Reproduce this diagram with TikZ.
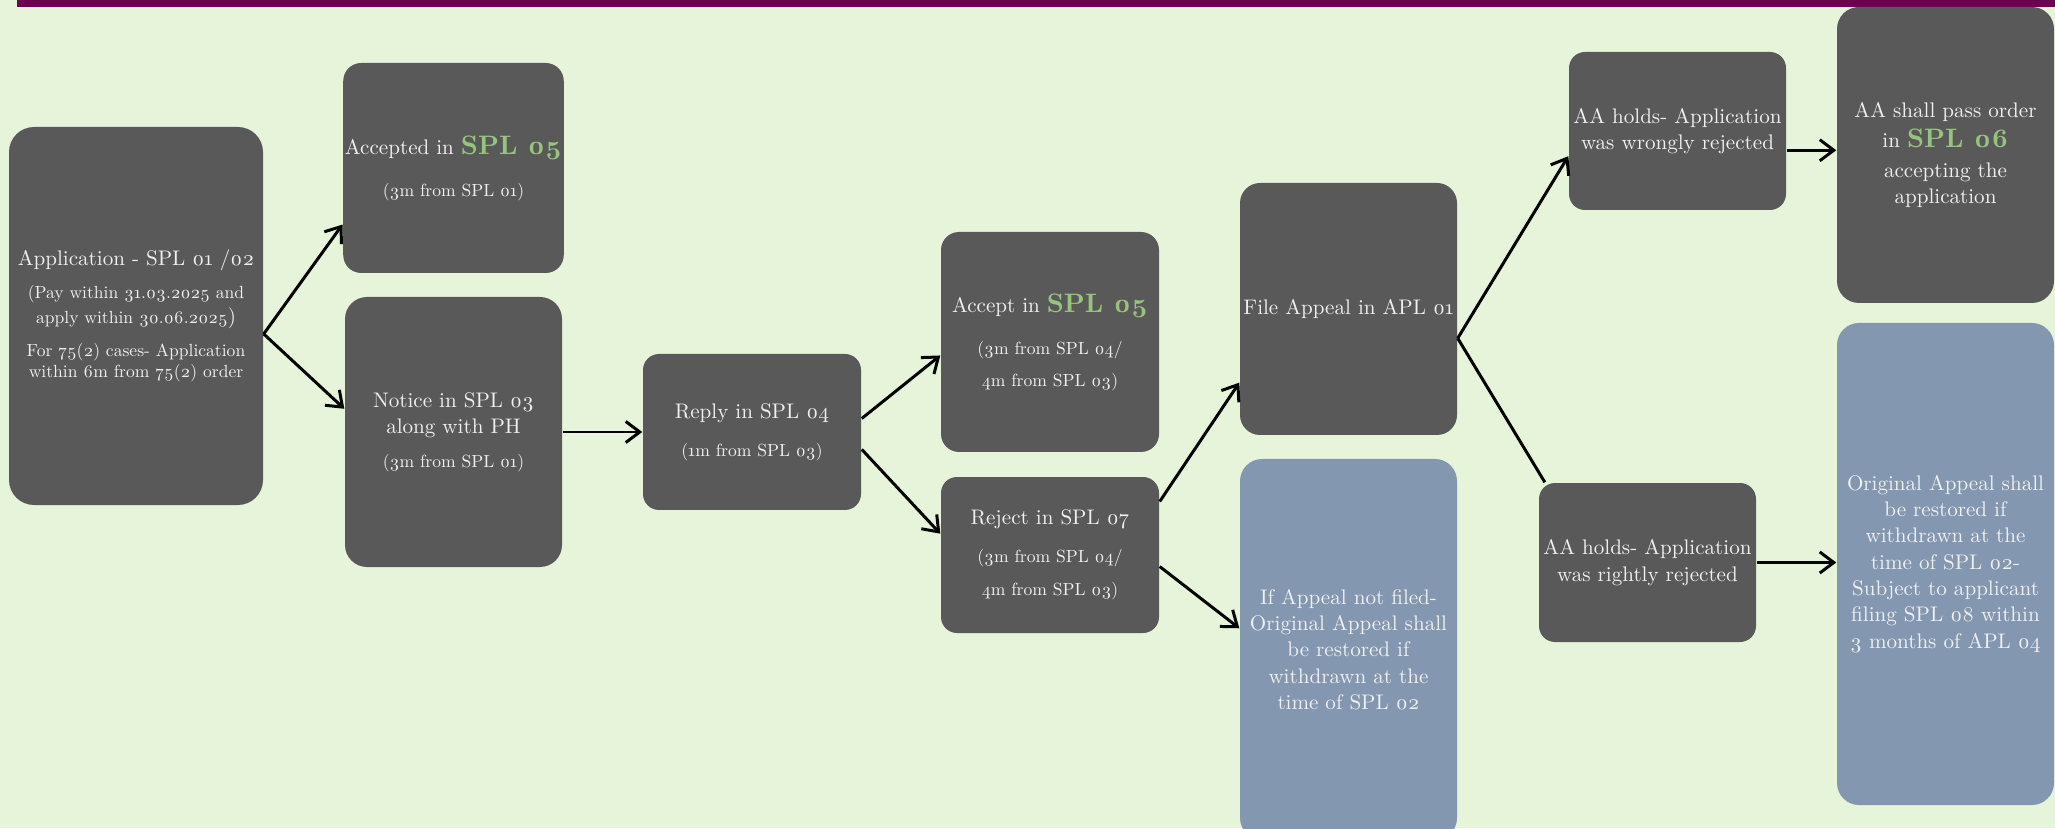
\documentclass[tikz,border=0pt]{standalone}
\usepackage{fontspec}
\setmainfont{lmroman10-regular}[Extension=.otf, BoldFont=lmroman10-bold, Numbers=OldStyle]
\usetikzlibrary{arrows.meta,positioning}

\definecolor{pagebg}{RGB}{230,245,218}
\definecolor{topbar}{RGB}{110,0,80}
\definecolor{stagegray}{RGB}{89,89,89}
\definecolor{noteblue}{RGB}{131,151,176}
\definecolor{formgreen}{RGB}{150,196,125}
\definecolor{stagetext}{RGB}{240,240,240}

\newcommand{\txtmain}{\fontsize{6}{7.5}\selectfont}
\newcommand{\txtsmall}{\fontsize{5}{6.6}\selectfont}
\newcommand{\form}[1]{{\fontsize{7.6}{9}\selectfont\bfseries\color{formgreen}#1}}

\tikzset{
	stage/.style={fill=stagegray, text=stagetext, rounded corners=0.18cm, align=center,
		minimum width=2.17cm, inner sep=0.5pt, font=\txtmain},
	note/.style={stage, fill=noteblue, rounded corners=0.22cm},
	flow/.style={-{Straight Barb[length=4pt,width=6pt]}, line width=0.85pt},
}

\begin{document}
\begin{tikzpicture}
	\useasboundingbox (0,0) rectangle (20.55,8.28);
	\fill[pagebg] (0,0) rectangle (20.55,8.28);
	\fill[topbar] (0.17,8.21) rectangle (20.55,8.28);
	%%%%% application and first replies
	\node[stage, minimum width=2.54cm, minimum height=3.78cm, rounded corners=0.25cm] (app) at (1.36,5.12)
		{Application - SPL 01 /02\\[2pt]
		{\txtsmall (Pay within 31.03.2025 and}\\[-0.5pt]
		{\txtsmall apply within 30.06.2025})\\[2pt]
		{\txtsmall For 75(2) cases- Application}\\[-1.5pt]
		{\txtsmall within 6m from 75(2) order}};
	\node[stage, minimum height=2.10cm] (acc1) at (4.535,6.60)
		{Accepted in \form{SPL 05}\\[4.5pt]{\txtsmall (3m from SPL 01)}};
	\node[stage, minimum height=2.70cm, rounded corners=0.22cm] (notice) at (4.535,3.96)
		{Notice in SPL 03\\along with PH\\[2.2pt]{\txtsmall (3m from SPL 01)}};
	\node[stage, minimum width=2.18cm, minimum height=1.56cm, rounded corners=0.16cm] (reply) at (7.52,3.96)
		{Reply in SPL 04\\[3.3pt]{\txtsmall (1m from SPL 03)}};
	%%%%% order on the reply
	\node[stage, minimum width=2.18cm, minimum height=2.20cm] (acc2) at (10.50,4.86)
		{Accept in \form{SPL 05}\\[4.5pt]{\txtsmall (3m from SPL 04/}\\[1.6pt]{\txtsmall 4m from SPL 03)}};
	\node[stage, minimum width=2.18cm, minimum height=1.56cm, rounded corners=0.16cm] (reject) at (10.50,2.73)
		{Reject in SPL 07\\[3.3pt]{\txtsmall (3m from SPL 04/}\\[1.9pt]{\txtsmall 4m from SPL 03)}};
	%%%%% appeal
	\node[stage, minimum height=2.52cm, rounded corners=0.2cm] (appeal) at (13.485,5.19) {File Appeal in APL 01};
	\node[note, minimum height=3.81cm] (notfiled) at (13.485,1.785)
		{If Appeal not filed-\\Original Appeal shall\\be restored if\\withdrawn at the\\time of SPL 02};
	\node[stage, minimum height=1.58cm, rounded corners=0.16cm] (wrong) at (16.775,6.97)
		{AA holds- Application\\was wrongly rejected};
	\node[stage, minimum height=1.59cm, rounded corners=0.16cm] (rightly) at (16.475,2.655)
		{AA holds- Application\\was rightly rejected};
	\node[stage, minimum height=2.96cm, rounded corners=0.22cm] (pass) at (19.455,6.73)
		{AA shall pass order\\[1pt]in \form{SPL 06}\\[1pt]accepting the\\application};
	\node[note, minimum height=4.82cm] (original) at (19.455,2.64)
		{Original Appeal shall\\be restored if\\withdrawn at the\\time of SPL 02-\\Subject to applicant\\filing SPL 08 within\\3 months of APL 04};
	%%%%% connectors
	\draw[flow] (app.-8) -- (acc1.207);
	\draw[flow] (app.-8) -- (notice.168);
	\draw[flow] (notice.east) -- (reply.west);
	\draw[flow] (reply.7) -- (acc2.187);
	\draw[flow] (reply.-9) -- (reject.169);
	\draw[flow] (reject.26) -- (appeal.214);
	\draw[flow] (reject.-6) -- (notfiled.169);
	\draw[flow] (appeal.-15) -- (wrong.193);
	\draw[line width=0.85pt] (appeal.-15) -- (rightly.142);
	\draw[flow] (wrong.-10) -- (pass.west |- wrong.-10);
	\draw[flow] (rightly.east) -- (original.west |- rightly.east);
\end{tikzpicture}
\end{document}
